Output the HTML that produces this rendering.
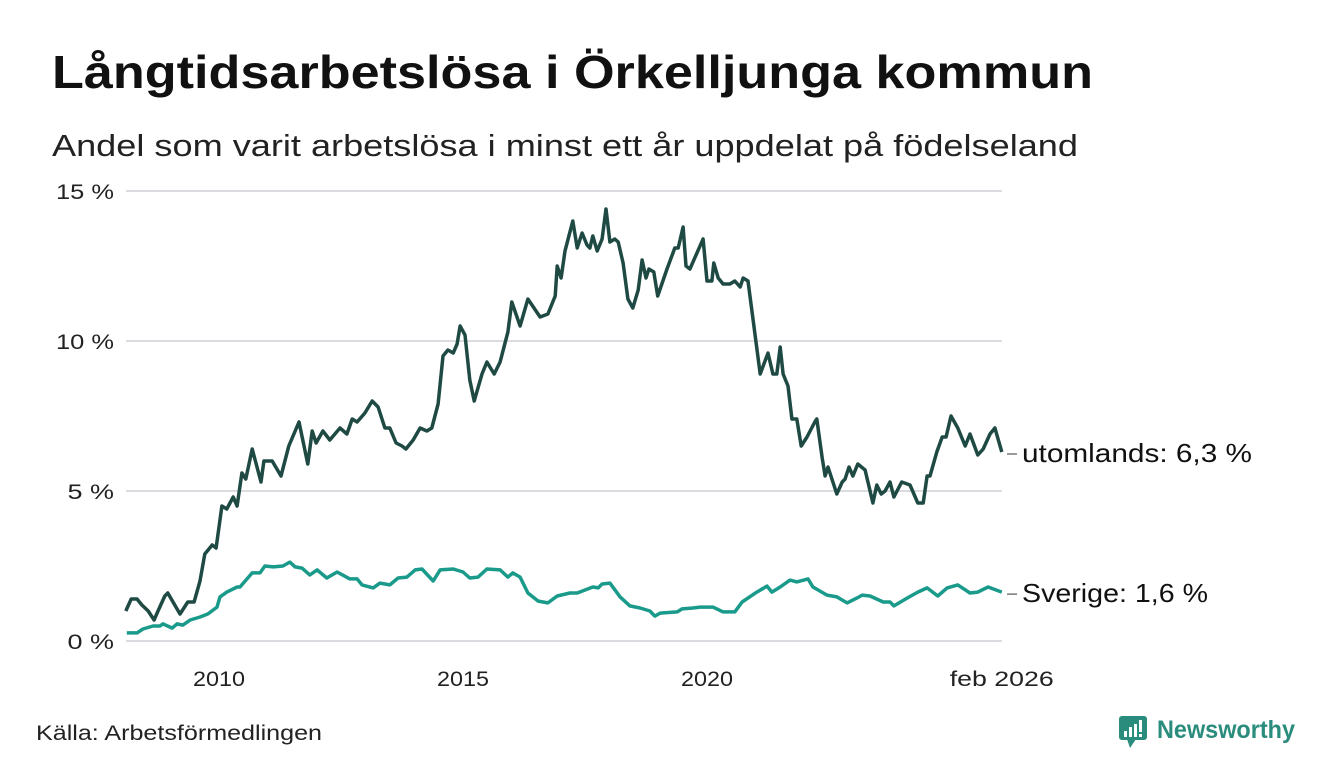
<!DOCTYPE html>
<html><head><meta charset="utf-8">
<style>
html,body{margin:0;padding:0;background:#fff;}
body{width:1340px;height:780px;position:relative;overflow:hidden;font-family:"Liberation Sans","DejaVu Sans",sans-serif;color:#111;}
svg{position:absolute;left:0;top:0;font-family:"Liberation Sans","DejaVu Sans",sans-serif;}
</style></head><body>
<svg id="chart" width="1340" height="780">
<text x="52" y="88" font-size="46" font-weight="bold" fill="#111" textLength="1041" lengthAdjust="spacingAndGlyphs">Långtidsarbetslösa i Örkelljunga kommun</text>
<text x="52" y="156" font-size="31" fill="#222" textLength="1026" lengthAdjust="spacingAndGlyphs">Andel som varit arbetslösa i minst ett år uppdelat på födelseland</text>
<text x="36" y="740" font-size="21" fill="#222" textLength="286" lengthAdjust="spacingAndGlyphs">Källa: Arbetsförmedlingen</text>
<g>
<rect x="1119" y="716" width="28" height="24" rx="3" fill="#2a8c7c"/>
<polygon points="1127,739 1136,739 1130,748" fill="#2a8c7c"/>
<rect x="1124" y="731" width="3" height="6" fill="#fff"/><rect x="1129" y="727" width="3" height="10" fill="#fff"/><rect x="1134" y="724" width="3" height="13" fill="#fff"/><rect x="1139" y="720" width="3" height="12" fill="#fff"/><rect x="1139" y="734" width="3" height="3" fill="#fff"/>
<text x="1157" y="738" font-size="25" font-weight="bold" fill="#2a8c7c" textLength="138" lengthAdjust="spacingAndGlyphs">Newsworthy</text>
</g>
</svg>
<script>
const yTicks=[0,5,10,15];
const yTickLabels=["0 %","5 %","10 %","15 %"];
const xTicks=[2010,2015,2020,2026.04];
const xTickLabels=["2010","2015","2020","feb 2026"];
const utDates=[2008.09,2008.20,2008.32,2008.42,2008.55,2008.67,2008.75,2008.89,2008.95,2009.20,2009.36,2009.49,2009.61,2009.71,2009.86,2009.94,2010.06,2010.16,2010.29,2010.37,2010.47,2010.55,2010.68,2010.86,2010.92,2011.09,2011.27,2011.43,2011.64,2011.82,2011.91,2011.99,2012.13,2012.27,2012.48,2012.62,2012.73,2012.83,2012.99,2013.14,2013.26,2013.40,2013.50,2013.63,2013.75,2013.83,2013.98,2014.12,2014.26,2014.36,2014.49,2014.59,2014.69,2014.80,2014.88,2014.94,2015.04,2015.14,2015.23,2015.39,2015.49,2015.64,2015.76,2015.92,2016.00,2016.17,2016.33,2016.58,2016.74,2016.89,2016.93,2017.01,2017.09,2017.25,2017.34,2017.44,2017.54,2017.60,2017.66,2017.75,2017.85,2017.93,2018.01,2018.11,2018.18,2018.28,2018.38,2018.48,2018.59,2018.67,2018.75,2018.81,2018.91,2018.99,2019.18,2019.34,2019.41,2019.51,2019.57,2019.65,2019.92,2020.00,2020.10,2020.14,2020.23,2020.33,2020.47,2020.57,2020.68,2020.74,2020.84,2021.09,2021.25,2021.35,2021.43,2021.50,2021.56,2021.66,2021.74,2021.84,2021.93,2022.05,2022.21,2022.25,2022.36,2022.42,2022.48,2022.66,2022.77,2022.83,2022.91,2022.99,2023.09,2023.24,2023.40,2023.48,2023.57,2023.65,2023.75,2023.83,2023.99,2024.16,2024.32,2024.43,2024.51,2024.57,2024.71,2024.82,2024.90,2025.00,2025.14,2025.29,2025.39,2025.55,2025.66,2025.80,2025.90,2026.04];
const utValues=[1.0,1.4,1.4,1.2,1.0,0.7,1.0,1.5,1.6,0.9,1.3,1.3,2.0,2.9,3.2,3.1,4.5,4.4,4.8,4.5,5.6,5.4,6.4,5.3,6.0,6.0,5.5,6.5,7.3,5.9,7.0,6.6,7.0,6.7,7.1,6.9,7.4,7.3,7.6,8.0,7.8,7.1,7.1,6.6,6.5,6.4,6.7,7.1,7.0,7.1,7.9,9.5,9.7,9.6,9.9,10.5,10.2,8.7,8.0,8.9,9.3,8.9,9.3,10.3,11.3,10.5,11.4,10.8,10.9,11.5,12.5,12.1,13.0,14.0,13.1,13.6,13.2,13.1,13.5,13.0,13.4,14.4,13.3,13.4,13.3,12.6,11.4,11.1,11.7,12.7,12.1,12.4,12.3,11.5,12.4,13.1,13.1,13.8,12.5,12.4,13.4,12.0,12.0,12.6,12.1,11.9,11.9,12.0,11.8,12.1,12.0,8.9,9.6,8.9,8.9,9.8,8.9,8.5,7.4,7.4,6.5,6.8,7.3,7.4,6.1,5.5,5.8,4.9,5.3,5.4,5.8,5.5,5.9,5.7,4.6,5.2,4.9,5.0,5.3,4.8,5.3,5.2,4.6,4.6,5.5,5.5,6.3,6.8,6.8,7.5,7.1,6.5,6.9,6.2,6.4,6.9,7.1,6.3];
const seDates=[2008.11,2008.32,2008.44,2008.65,2008.79,2008.85,2009.04,2009.14,2009.26,2009.41,2009.61,2009.77,2009.96,2010.02,2010.16,2010.37,2010.43,2010.68,2010.84,2010.94,2011.11,2011.31,2011.45,2011.56,2011.70,2011.86,2012.01,2012.21,2012.42,2012.68,2012.83,2012.93,2013.16,2013.30,2013.50,2013.67,2013.85,2014.02,2014.16,2014.39,2014.53,2014.80,2015.00,2015.14,2015.31,2015.49,2015.76,2015.92,2016.02,2016.17,2016.33,2016.54,2016.74,2016.93,2017.19,2017.34,2017.66,2017.77,2017.85,2018.01,2018.22,2018.42,2018.63,2018.83,2018.93,2019.04,2019.39,2019.49,2019.71,2019.86,2020.12,2020.33,2020.57,2020.72,2021.02,2021.23,2021.33,2021.50,2021.70,2021.84,2022.07,2022.17,2022.46,2022.66,2022.87,2023.07,2023.18,2023.34,2023.61,2023.75,2023.83,2024.10,2024.32,2024.51,2024.73,2024.92,2025.14,2025.39,2025.55,2025.76,2026.04];
const seValues=[0.27,0.27,0.4,0.5,0.5,0.57,0.43,0.57,0.53,0.7,0.8,0.9,1.13,1.47,1.63,1.8,1.8,2.27,2.27,2.5,2.47,2.5,2.63,2.47,2.43,2.2,2.37,2.1,2.3,2.07,2.07,1.87,1.77,1.93,1.87,2.1,2.13,2.37,2.4,2.0,2.37,2.4,2.3,2.1,2.13,2.4,2.37,2.13,2.27,2.13,1.6,1.33,1.27,1.5,1.6,1.6,1.8,1.77,1.9,1.93,1.47,1.17,1.1,1.0,0.83,0.93,0.97,1.07,1.1,1.13,1.13,0.97,0.97,1.3,1.63,1.83,1.63,1.8,2.03,1.97,2.07,1.8,1.53,1.47,1.27,1.43,1.53,1.5,1.3,1.3,1.17,1.43,1.63,1.77,1.5,1.77,1.87,1.6,1.63,1.8,1.63];
const seriesNames=["utomlands","Sverige"];

const NS="http://www.w3.org/2000/svg";
const svg=document.getElementById('chart');
const X0=126,X1=1002;
function xS(yr){return 219+(yr-2010)*48.8;}
function yS(v){return 641-v*30;}
function mk(tag,attrs){const e=document.createElementNS(NS,tag);for(const k in attrs)e.setAttribute(k,attrs[k]);svg.appendChild(e);return e;}
yTicks.forEach((t,i)=>{
  const g=mk('line',{x1:X0,x2:X1,y1:yS(t),y2:yS(t),stroke:'#dcdce0','stroke-width':2});
  
  
  const lab=yTickLabels[i];
  const tx=mk('text',{x:114,y:yS(t)+8,'text-anchor':'end','font-size':21,fill:'#222',textLength:lab.length*11.5+12,lengthAdjust:'spacingAndGlyphs'});
  tx.textContent=lab;
  
  
});
xTicks.forEach((t,i)=>{
  const lab=xTickLabels[i];
  const tx=mk('text',{x:xS(t),y:686,'text-anchor':'middle','font-size':21,fill:'#222',textLength:lab.length*13,lengthAdjust:'spacingAndGlyphs'});
  tx.textContent=lab;
  
  
});
function line(dates,vals,color,name,label,w){
  const d=dates.map((t,i)=>(i?'L':'M')+xS(t).toFixed(1)+','+yS(vals[i]).toFixed(1)).join('');
  const p=mk('path',{d:d,fill:'none',stroke:color,'stroke-width':3.5,'stroke-linejoin':'round'});
  
  
  const last=vals[vals.length-1];
  const ly=yS(last);
  const dl=mk('line',{x1:1007,x2:1017,y1:ly+2,y2:ly+2,stroke:'#333','stroke-width':1});
  
  
  const txt=label+': '+last.toFixed(1).replace('.',',')+' %';
  const tx=mk('text',{x:1022,y:ly+10,'font-size':26,fill:'#111',textLength:w,lengthAdjust:'spacingAndGlyphs'});
  tx.textContent=txt;
  
  
}
line(seDates,seValues,'#1a9a8a','sverige',seriesNames[1],186);
line(utDates,utValues,'#1f4a44','utomlands',seriesNames[0],230);
</script>
</body></html>
